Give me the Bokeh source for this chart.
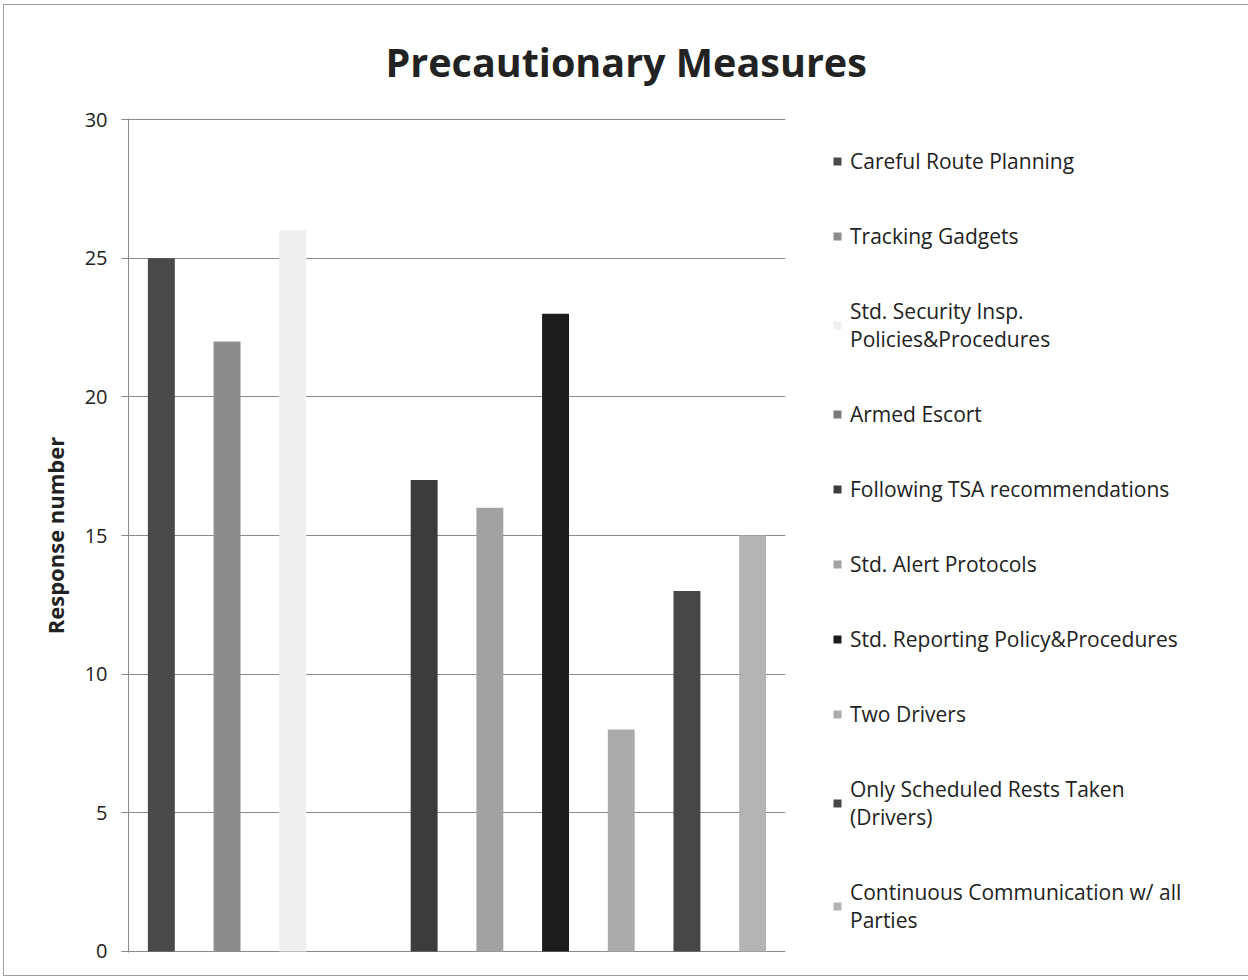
from bokeh.plotting import figure
from bokeh.models import Legend, LegendItem, FactorRange, FixedTicker, Title, ColumnDataSource, Range1d
from bokeh.embed import file_html
from bokeh.resources import INLINE

# ---- data ----
title_text = "Precautionary Measures"
categories = [
    "Careful Route Planning",
    "Tracking Gadgets",
    "Std. Security Insp. Policies&Procedures",
    "Armed Escort",
    "Following TSA recommendations",
    "Std. Alert Protocols",
    "Std. Reporting Policy&Procedures",
    "Two Drivers",
    "Only Scheduled Rests Taken (Drivers)",
    "Continuous Communication w/ all Parties",
]
legend_labels = [
    "Careful Route Planning",
    "Tracking Gadgets",
    "Std. Security Insp.\nPolicies&Procedures",
    "Armed Escort",
    "Following TSA recommendations",
    "Std. Alert Protocols",
    "Std. Reporting Policy&Procedures",
    "Two Drivers",
    "Only Scheduled Rests Taken\n(Drivers)",
    "Continuous Communication w/ all\nParties",
]
values = [25, 22, 26, 0, 17, 16, 23, 8, 13, 15]
colors = ["#4a4a4a", "#8c8c8c", "#efefef", "#7a7a7a", "#3c3c3c",
          "#a2a2a2", "#1c1c1c", "#ababab", "#474747", "#b4b4b4"]
y_ticks = [0, 5, 10, 15, 20, 25, 30]

FONT = "Open Sans"
TXT = "#222222"

p = figure(
    x_range=FactorRange(*categories, range_padding=0),
    y_range=Range1d(-0.04, 30.04),
    frame_width=657, frame_height=834,
    min_border_left=124, min_border_top=113, min_border_bottom=23, min_border_right=458,
    output_backend="svg", toolbar_location=None,
    background_fill_color="white", border_fill_color="white",
    styles={"border": "1px solid #a0a0a0", "margin-left": "3px", "margin-top": "4px"},
)
p.title = Title(text=title_text, align="left", offset=257, vertical_align="top",
                text_font=FONT, text_font_size="39.5px", text_font_style="bold",
                text_color=TXT, standoff=55)

src = ColumnDataSource(dict(cat=categories, val=values, col=colors, lab=legend_labels))
r = p.vbar(x="cat", top="val", width=0.41, color="col", source=src, line_color=None)

items = [LegendItem(label=legend_labels[i], renderers=[r], index=i) for i in range(len(categories))]
legend = Legend(items=items, location=(47, 18), margin=0, padding=10,
                glyph_width=10, glyph_height=10, label_standoff=8, label_height=28,
                label_text_font=FONT, label_text_font_size="21px", label_text_color=TXT,
                label_text_line_height=1.4,
                spacing=47, border_line_color=None, background_fill_alpha=0)
p.add_layout(legend, "right")

p.outline_line_color = None
p.xgrid.grid_line_color = None
p.ygrid.grid_line_color = "#8a8a8a"
p.ygrid.grid_line_width = 1

p.yaxis.ticker = FixedTicker(ticks=y_ticks)
p.yaxis.axis_label = "Response number"
p.yaxis.axis_label_text_font = FONT
p.yaxis.axis_label_text_font_size = "22px"
p.yaxis.axis_label_text_font_style = "bold"
p.yaxis.axis_label_text_color = TXT
p.yaxis.axis_label_standoff = 12
p.yaxis.major_label_text_font = FONT
p.yaxis.major_label_text_font_size = "20px"
p.yaxis.major_label_text_color = TXT
p.yaxis.major_label_standoff = 14
p.yaxis.major_tick_out = 7
p.yaxis.major_tick_in = 0
p.yaxis.minor_tick_line_color = None
p.yaxis.major_tick_line_color = "#8a8a8a"
p.yaxis.axis_line_color = "#8a8a8a"

p.xaxis.visible = False

open("out.html", "w").write(file_html(p, INLINE))
